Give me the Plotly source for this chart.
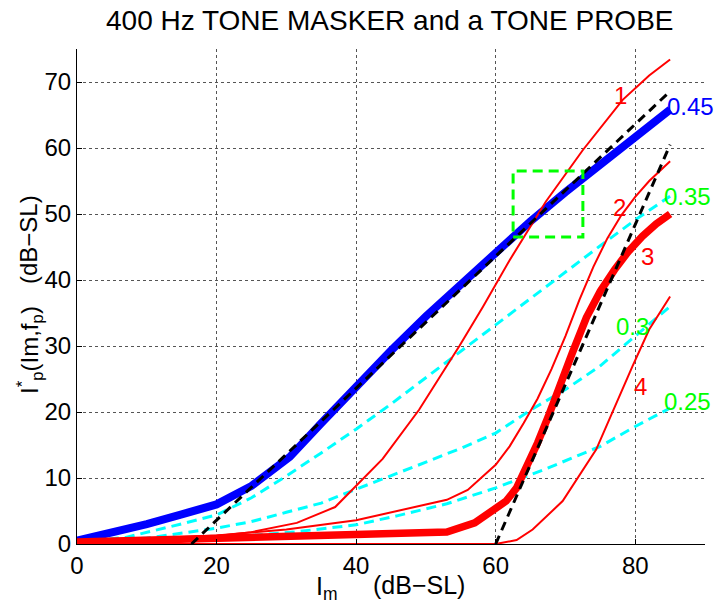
import plotly.graph_objects as go

# ---------------- data ----------------
title_text = "400 Hz TONE MASKER and a TONE PROBE"

x_ticks = [0, 20, 40, 60, 80]
y_ticks = [0, 10, 20, 30, 40, 50, 60, 70]

# blue thick curve (0.45)
blue_x = [0, 5, 10, 15, 20, 25, 30.5, 35, 40, 45, 50, 55, 60, 65, 70, 75, 80, 85]
blue_y = [0.5, 1.7, 3.0, 4.5, 6.0, 8.8, 13.2, 18.3, 24.0, 29.3, 34.5, 39.4, 44.2, 48.9, 53.3, 57.5, 61.8, 65.8]

# cyan dashed curves
cyanA_x = [0, 7, 14.8, 20, 25, 30, 35, 40, 45, 50, 55, 60, 65, 70, 75, 80, 85]
cyanA_y = [0.3, 1.0, 3.0, 4.4, 7.0, 10.3, 13.8, 17.4, 21.2, 25.2, 29.2, 33.3, 37.3, 41.2, 45.2, 49.1, 52.7]
cyanB_x = [0, 10, 20, 25, 30, 35, 40, 45, 50, 55, 60, 65, 70, 75, 80, 85]
cyanB_y = [0.2, 0.9, 2.4, 3.4, 4.8, 6.2, 8.3, 10.3, 12.4, 14.5, 16.8, 20.3, 23.4, 27.0, 31.5, 36.0]
cyanC_x = [0, 10, 20, 26, 31, 40, 46, 53, 60, 67, 75, 80, 85]
cyanC_y = [0.1, 0.4, 0.9, 1.4, 1.8, 2.9, 4.3, 6.1, 8.5, 11.3, 14.8, 17.8, 20.6]

# red thin curves 1, 2, 4 and thick curve 3
red1_x = [0, 10, 20, 25, 31.5, 37, 43.8, 49, 54.8, 58.2, 62, 67.2, 72.5, 78.2, 82, 85]
red1_y = [0.3, 0.7, 1.2, 1.8, 3.2, 5.6, 12.9, 20.3, 30.0, 36.0, 43.0, 51.9, 59.7, 67.3, 71.0, 73.4]
red2_x = [0, 10, 20, 30, 40, 53, 56, 60, 62, 64, 66, 68, 70, 72, 74, 76, 78, 80, 82, 85]
red2_y = [0.3, 0.8, 1.3, 2.2, 3.6, 6.7, 8.2, 12.0, 14.8, 18.3, 22.0, 26.5, 31.5, 37.0, 42.0, 46.3, 49.8, 52.6, 55.0, 58.0]
red3_x = [0, 10, 20, 30, 40, 53, 57, 60, 61.5, 63, 64.5, 66, 67.5, 69.5, 71, 73, 75, 77, 79, 81, 83, 85]
red3_y = [0.3, 0.6, 0.9, 1.2, 1.4, 1.8, 3.2, 5.2, 6.5, 8.5, 11.8, 15.3, 19.2, 25.0, 29.0, 34.3, 38.3, 41.5, 44.3, 46.6, 48.5, 50.0]
red4_x = [0, 60, 63, 65.3, 69.6, 74.4, 79.6, 82, 85]
red4_y = [0, 0, 0.6, 2.2, 6.5, 14.3, 26.9, 32.5, 37.5]

# black dashed asymptotes
black1_x = [16.4, 85]
black1_y = [0, 68.6]
black2_x = [60, 85]
black2_y = [0, 60.5]

# green dashed box
box_x = [62.5, 72.5]
box_y = [46.5, 56.5]

# curve labels: (text, x, y, color, anchor)
labels = [
    ("1", 77.9, 67.9, "#ff0000", "center"),
    ("0.45", 84.2, 66.3, "#0000ff", "left"),
    ("2", 77.7, 51.0, "#ff0000", "center"),
    ("0.35", 83.9, 52.7, "#00ff00", "left"),
    ("3", 81.8, 43.6, "#ff0000", "center"),
    ("0.3", 77.0, 33.0, "#00ff00", "left"),
    ("4", 80.8, 23.9, "#ff0000", "center"),
    ("0.25", 83.9, 21.6, "#00ff00", "left"),
]

# ---------------- figure ----------------
W, H = 714, 606
L, R, T, B = 77, 9, 49, 62
PW, PH = W - L - R, H - T - B
FONT = "Liberation Sans, Arial, Helvetica, sans-serif"


def pxx(px):
    return (px - L) / PW


def pxy(py):
    return (H - B - py) / PH


fig = go.Figure()

fig.add_trace(go.Scatter(x=blue_x, y=blue_y, mode="lines",
                         line=dict(color="#0000ff", width=8)))
for cx, cy in [(cyanA_x, cyanA_y), (cyanB_x, cyanB_y), (cyanC_x, cyanC_y)]:
    fig.add_trace(go.Scatter(x=cx, y=cy, mode="lines",
                             line=dict(color="#00ffff", width=3, dash="10px,6px")))
for rx, ry in [(red1_x, red1_y), (red2_x, red2_y), (red4_x, red4_y)]:
    fig.add_trace(go.Scatter(x=rx, y=ry, mode="lines",
                             line=dict(color="#ff0000", width=2)))
fig.add_trace(go.Scatter(x=red3_x, y=red3_y, mode="lines",
                         line=dict(color="#ff0000", width=7.5)))
for bx, by in [(black1_x, black1_y), (black2_x, black2_y)]:
    fig.add_trace(go.Scatter(x=bx, y=by, mode="lines",
                             line=dict(color="#000000", width=3, dash="9px,6px")))

fig.add_shape(type="rect", xref="x", yref="y",
              x0=box_x[0], x1=box_x[1], y0=box_y[0], y1=box_y[1],
              line=dict(color="#00ff00", width=3, dash="10px,6px"))

annotations = []
for text, lx, ly, col, anc in labels:
    annotations.append(dict(x=lx, y=ly, xref="x", yref="y", text=text,
                            showarrow=False, xanchor=anc, yanchor="middle",
                            font=dict(family=FONT, size=24, color=col)))

# title
annotations.append(dict(x=pxx(390), y=pxy(20), xref="paper", yref="paper",
                        text=title_text, showarrow=False,
                        xanchor="center", yanchor="middle",
                        font=dict(family=FONT, size=28, color="black")))
# x label
annotations.append(dict(x=pxx(314), y=pxy(588), xref="paper", yref="paper",
                        text="I<sub>m</sub>", showarrow=False,
                        xanchor="left", yanchor="middle",
                        font=dict(family=FONT, size=25, color="black")))
annotations.append(dict(x=pxx(419), y=pxy(585), xref="paper", yref="paper",
                        text="(dB\u2212SL)", showarrow=False,
                        xanchor="center", yanchor="middle",
                        font=dict(family=FONT, size=25, color="black")))
# y label (rotated)
annotations.append(dict(x=pxx(30), y=pxy(350), xref="paper", yref="paper",
                        text="I<sup>*</sup><sub>p</sub>(Im,f<sub>p</sub>)",
                        showarrow=False, textangle=-90,
                        xanchor="center", yanchor="middle",
                        font=dict(family=FONT, size=24, color="black")))
annotations.append(dict(x=pxx(28), y=pxy(240), xref="paper", yref="paper",
                        text="(dB\u2212SL)", showarrow=False, textangle=-90,
                        xanchor="center", yanchor="middle",
                        font=dict(family=FONT, size=24, color="black")))

axis_common = dict(
    showline=True, linecolor="black", linewidth=1, mirror=False,
    ticks="inside", ticklen=5, tickwidth=1, tickcolor="black",
    showgrid=True, gridcolor="#555555", gridwidth=1, griddash="dot",
    zeroline=False,
    tickfont=dict(family=FONT, size=24, color="black"),
)

fig.update_layout(
    width=W, height=H,
    margin=dict(l=L, r=R, t=T, b=B, pad=0, autoexpand=False),
    paper_bgcolor="white", plot_bgcolor="white",
    showlegend=False,
    annotations=annotations,
    xaxis=dict(range=[0, 90], tickvals=x_ticks, **axis_common),
    yaxis=dict(range=[0, 75], tickvals=y_ticks, **axis_common),
)

fig.write_html("out.html")
